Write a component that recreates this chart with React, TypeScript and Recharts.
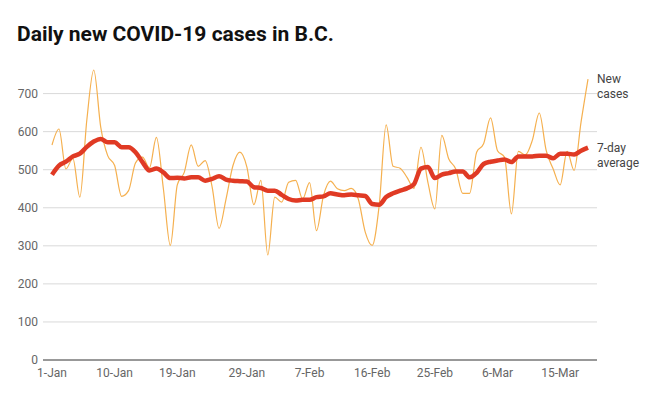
import React from 'react';
import { LineChart, Line, XAxis, YAxis, ReferenceLine } from 'recharts';

const dates = [
  '1-Jan', '2-Jan', '3-Jan', '4-Jan', '5-Jan', '6-Jan', '7-Jan', '8-Jan', '9-Jan', '10-Jan',
  '11-Jan', '12-Jan', '13-Jan', '14-Jan', '15-Jan', '16-Jan', '17-Jan', '18-Jan', '19-Jan', '20-Jan',
  '21-Jan', '22-Jan', '23-Jan', '24-Jan', '25-Jan', '26-Jan', '27-Jan', '28-Jan', '29-Jan', '30-Jan',
  '31-Jan', '1-Feb', '2-Feb', '3-Feb', '4-Feb', '5-Feb', '6-Feb', '7-Feb', '8-Feb', '9-Feb',
  '10-Feb', '11-Feb', '12-Feb', '13-Feb', '14-Feb', '15-Feb', '16-Feb', '17-Feb', '18-Feb', '19-Feb',
  '20-Feb', '21-Feb', '22-Feb', '23-Feb', '24-Feb', '25-Feb', '26-Feb', '27-Feb', '28-Feb', '1-Mar',
  '2-Mar', '3-Mar', '4-Mar', '5-Mar', '6-Mar', '7-Mar', '8-Mar', '9-Mar', '10-Mar', '11-Mar',
  '12-Mar', '13-Mar', '14-Mar', '15-Mar', '16-Mar', '17-Mar', '18-Mar', '19-Mar',
];

const newCases = [
  565, 607, 502, 530, 428, 630, 762, 612, 537, 511,
  430, 445, 518, 533, 505, 585, 450, 301, 460, 493,
  565, 509, 524, 455, 346, 423, 511, 546, 507, 408,
  472, 276, 428, 415, 467, 472, 423, 466, 340, 432,
  470, 450, 445, 451, 423, 336, 301, 406, 618, 509,
  504, 480, 451, 559, 467, 397, 590, 528, 502, 438,
  438, 546, 568, 636, 550, 533, 384, 548, 539, 577,
  649, 550, 502, 460, 548, 498, 625, 738,
];

const sevenDayAvg = [
  487, 511, 521, 535, 542, 560, 574, 581, 572, 572,
  559, 559, 546, 520, 498, 503, 493, 478, 479, 477,
  480, 480, 471, 476, 483, 474, 471, 470, 469, 454,
  452, 445, 445, 434, 423, 419, 421, 421, 428, 430,
  438, 435, 433, 435, 433, 431, 410, 408, 428, 438,
  445, 451, 462, 503, 507, 478, 487, 491, 495, 495,
  480, 492, 515, 521, 524, 527, 520, 535, 535, 535,
  537, 537, 530, 542, 542, 540, 550, 558,
];

const tickDates = ['1-Jan', '10-Jan', '19-Jan', '29-Jan', '7-Feb', '16-Feb', '25-Feb', '6-Mar', '15-Mar'];
const yTicks = [0, 100, 200, 300, 400, 500, 600, 700];

const data = dates.map((date, i) => ({
  day: i,
  date,
  cases: newCases[i],
  avg: sevenDayAvg[i],
}));

const FONT = 'Roboto, Arial, sans-serif';

// label drawn only next to the last point of a line
const endLabel = (lines: string[]) => (props: any) => {
  const { x, y, index } = props;
  if (index !== data.length - 1) return null;
  return (
    <text x={x + 9} y={y} fill="#444" fontSize={12} fontFamily={FONT} dominantBaseline="central">
      {lines.map((l, i) => (
        <tspan key={l} x={x + 9} dy={i === 0 ? 0 : 15}>{l}</tspan>
      ))}
    </text>
  );
};

export default function App() {
  return (
    <div style={{ position: 'absolute', left: 0, top: 0, width: 646, height: 403, background: '#fff', fontFamily: FONT }}>
      <div style={{ position: 'absolute', left: 17, top: 22, fontSize: 21, fontWeight: 700, color: '#111' }}>
        Daily new COVID-19 cases in B.C.
      </div>
      <LineChart
        width={646}
        height={403}
        data={data}
        margin={{ top: 70, right: 49, bottom: 13, left: 0 }}
      >
        {yTicks.filter(t => t > 0).map(t => (
          <ReferenceLine key={t} y={t} stroke="#d9d9d9" strokeWidth={1} />
        ))}
        <XAxis
          dataKey="day"
          type="number"
          domain={[0, data.length - 1]}
          ticks={tickDates.map(d => dates.indexOf(d))}
          tickFormatter={(v: number) => dates[v]}
          padding={{ left: 9, right: 9 }}
          axisLine={{ stroke: '#333' }}
          tickLine={false}
          tickSize={0}
          tickMargin={8}
          tick={{ fill: '#666', fontSize: 12, fontFamily: FONT }}
          interval={0}
        />
        <YAxis
          width={43}
          domain={[0, 762]}
          ticks={yTicks}
          axisLine={false}
          tickLine={false}
          tickSize={0}
          tickMargin={5}
          tick={{ fill: '#666', fontSize: 12, fontFamily: FONT }}
        />
        <Line
          type="monotone"
          dataKey="cases"
          stroke="#f5b04f"
          strokeWidth={1.2}
          dot={false}
          isAnimationActive={false}
          label={endLabel(['New', 'cases'])}
        />
        <Line
          type="monotone"
          dataKey="avg"
          stroke="#e03a24"
          strokeWidth={4.5}
          dot={false}
          isAnimationActive={false}
          label={endLabel(['7-day', 'average'])}
        />
      </LineChart>
    </div>
  );
}
